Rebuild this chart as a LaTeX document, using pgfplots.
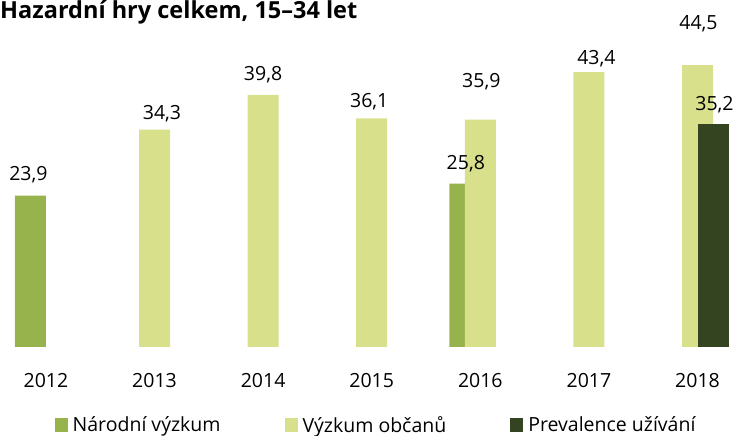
\documentclass[border=0pt]{standalone}
\usepackage{pgfplots}
\pgfplotsset{compat=1.18}
\usepackage{pgfplotstable}
\usepackage{fontspec}
\setmainfont{Open Sans}
\definecolor{cNar}{RGB}{151,180,76}
\definecolor{cVyz}{RGB}{216,224,139}
\definecolor{cPrev}{RGB}{52,68,32}

\pgfplotstableread{
x y dx dy
0 23.9 -2 20.5
4 25.8 1 19.5
}\narodni
\pgfplotstableread{
x y dx dy
1 34.3 7.5 16
2 39.8 0 20
3 36.1 -2.5 17
4 35.9 1 38
5 43.4 7.5 13
6 44.5 1 41
}\vyzkum
\pgfplotstableread{
x y dx dy
6 35.2 1.5 19.5
}\prevalence

\begin{document}
\begin{tikzpicture}
\begin{axis}[
  at={(0pt,89pt)}, anchor=south west,
  scale only axis, width=734pt, height=316.75pt,
  xmin=-0.4227, xmax=6.336, ymin=0, ymax=50,
  clip=false,
  axis line style={draw=none},
  major tick length=0pt,
  ytick=\empty,
  xtick={0,1,2,3,4,5,6},
  xticklabels={2012,2013,2014,2015,2016,2017,2018},
  xticklabel style={anchor=center, yshift=-34pt, font=\fontsize{19.5}{22}\selectfont, inner sep=0pt},
  ybar, bar width=31pt,
  /pgf/number format/assume math mode=true,
  /pgf/number format/.cd, use comma, fixed, fixed zerofill, precision=1, /pgfplots/.cd,
  nodes near coords,
  visualization depends on={\thisrow{dx} \as \ldx},
  visualization depends on={\thisrow{dy} \as \ldy},
  every node near coord/.append style={anchor=center, inner sep=0pt, xshift=\ldx pt, yshift=\ldy pt, font=\fontsize{19.5}{22}\selectfont, text=black},
  legend columns=3,
  legend cell align=left,
  legend style={at={(0.511,-0.2463)}, anchor=center, draw=none, fill=none,
    font=\fontsize{19.5}{22}\selectfont,
    nodes={inner sep=0pt},
    /tikz/every even column/.append style={column sep=64pt},
    /tikz/every odd column/.append style={column sep=5pt}},
  legend image code/.code={\draw[#1,draw=none] (0pt,-7pt) rectangle (13pt,7pt);},
]
\addplot[fill=cNar, draw=none, bar shift=-15.5pt] table[x=x,y=y] {\narodni};
\addlegendentry{Národní výzkum}
\addplot[fill=cVyz, draw=none, bar shift=0pt] table[x=x,y=y] {\vyzkum};
\addlegendentry{Výzkum občanů}
\addplot[fill=cPrev, draw=none, bar shift=15.5pt] table[x=x,y=y] {\prevalence};
\addlegendentry{Prevalence užívání}
\end{axis}
\node[anchor=base west, inner sep=0pt, font=\fontsize{23.5}{27}\selectfont\bfseries] at (0pt,417pt) {Hazardní hry celkem, 15–34 let};
\pgfresetboundingbox
\path (0pt,0pt) rectangle (734pt,436pt);
\end{tikzpicture}
\end{document}
